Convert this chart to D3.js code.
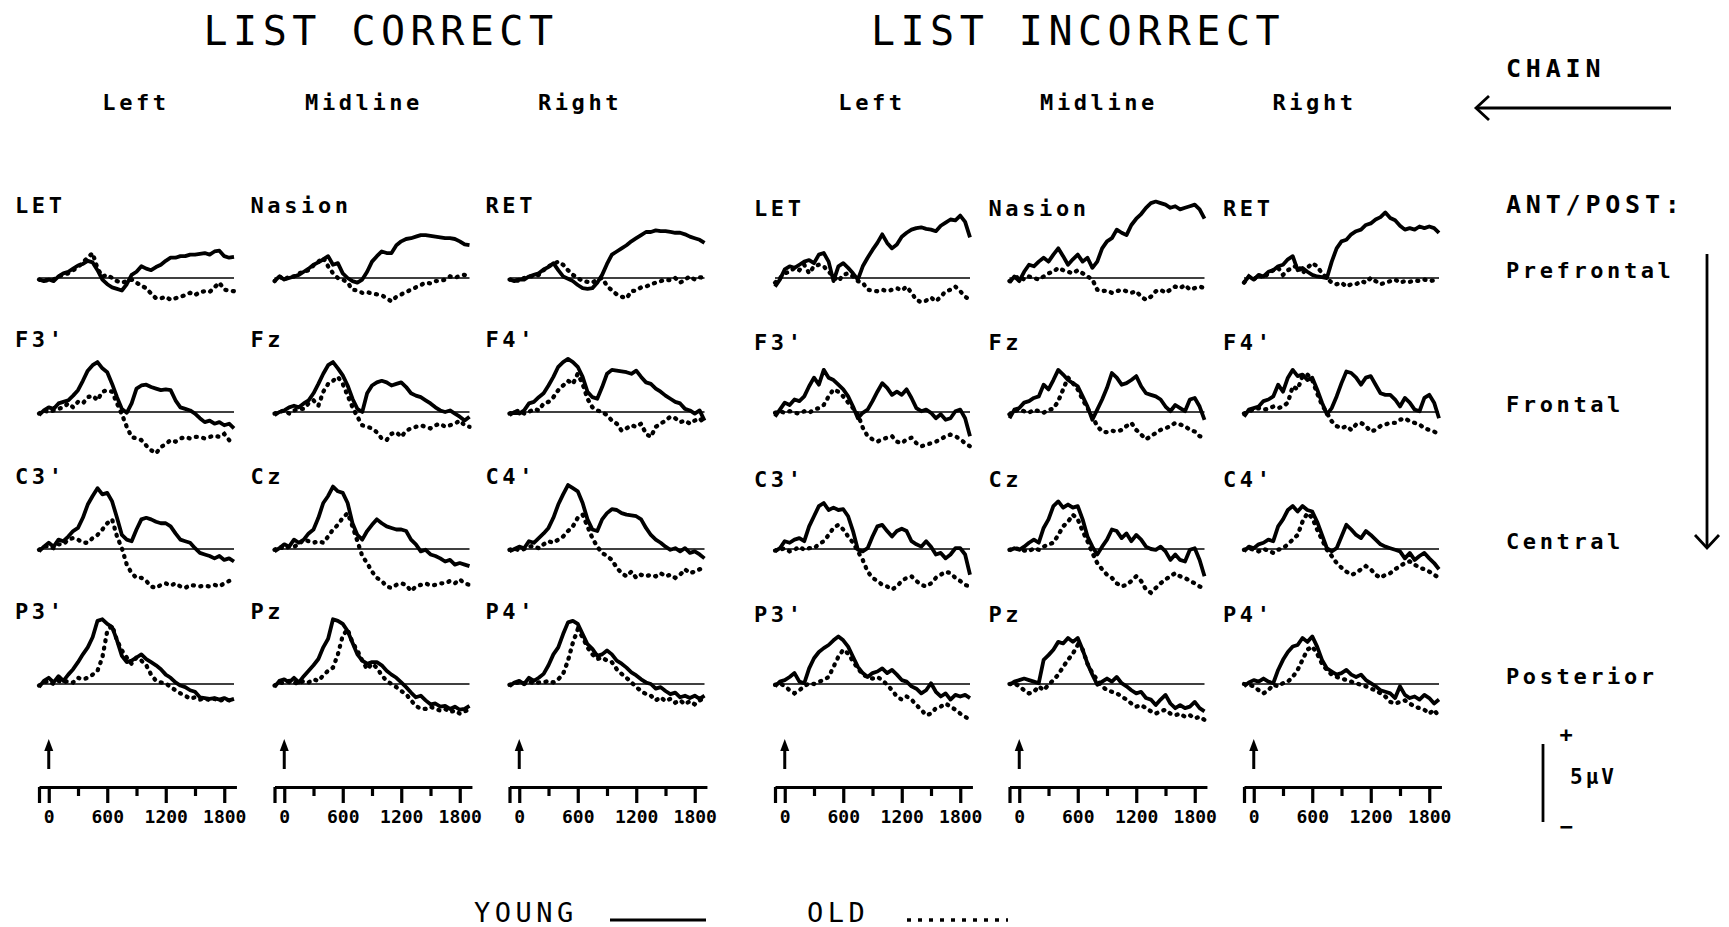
<!DOCTYPE html>
<html>
<head>
<meta charset="utf-8">
<script src="https://cdn.jsdelivr.net/npm/d3@7"></script>
<style>
  body { margin: 0; background: #fff; }
  text { font-family: "DejaVu Sans Mono", monospace; fill: #000; }
  .title { font-size: 40px; letter-spacing: 5.5px; }
  .hdr { font-size: 22px; font-weight: bold; letter-spacing: 3.6px; }
  .lbl { font-size: 22px; font-weight: bold; letter-spacing: 3.6px; }
  .side { font-size: 25px; font-weight: bold; letter-spacing: 4.8px; }
  .leg { font-size: 27px; letter-spacing: 4.5px; }
</style>
</head>
<body>
<svg id="chart" width="1729" height="927"></svg>
<script>
// sampling grid of the waveforms (ms), one value every 50 ms
const sampleTimes = d3.range(-100, 1901, 50);

// names
const conditions = ["LIST CORRECT", "LIST INCORRECT"];
const chains = ["Left", "Midline", "Right"];
const antPost = ["Prefrontal", "Frontal", "Central", "Posterior"];
const sites = [["LET", "Nasion", "RET"], ["F3'", "Fz", "F4'"], ["C3'", "Cz", "C4'"], ["P3'", "Pz", "P4'"]];
const tickTimes = [-100, 0, 300, 600, 900, 1200, 1500, 1800];
const tickLabels = ["0", "600", "1200", "1800"];

// ---- LIST CORRECT, young (solid) / old (dotted), µV ----
const cyLET = [-0.1,-0.2,-0.1,-0.2,0.1,0.3,0.4,0.6,0.8,0.9,1.1,1.0,0.5,-0.1,-0.4,-0.6,-0.7,-0.8,-0.4,0.2,0.4,0.75,0.6,0.5,0.7,0.85,1.1,1.3,1.3,1.4,1.4,1.5,1.5,1.55,1.6,1.5,1.7,1.75,1.4,1.3,1.35];
const coLET = [-0.1,-0.2,-0.1,-0.1,0.1,0.2,0.3,0.5,0.7,1.0,1.3,1.6,0.6,0.1,0.2,0.0,-0.2,-0.3,-0.2,-0.1,-0.3,-0.5,-0.65,-1.0,-1.3,-1.3,-1.2,-1.4,-1.3,-1.2,-1.1,-0.95,-1.1,-0.9,-0.85,-0.9,-0.6,-0.3,-0.75,-0.8,-0.85];
const cyNasion = [-0.2,0.1,-0.1,0.0,0.1,0.2,0.4,0.6,0.85,1.0,1.2,1.4,0.85,0.95,0.3,0.0,-0.2,-0.3,-0.1,0.4,1.05,1.4,1.7,1.6,1.6,2.1,2.35,2.5,2.55,2.65,2.75,2.75,2.7,2.65,2.6,2.55,2.55,2.5,2.35,2.15,2.1];
const coNasion = [-0.2,0.1,-0.1,0.1,0.1,0.3,0.4,0.5,0.8,1.05,1.3,0.75,0.3,0.0,-0.1,-0.3,-0.75,-0.8,-0.95,-0.9,-1.0,-1.05,-1.1,-1.3,-1.5,-1.2,-1.05,-0.9,-0.75,-0.6,-0.45,-0.3,-0.35,-0.2,-0.2,-0.1,0.1,0.0,0.15,0.2,0.1];
const cyRET = [-0.1,-0.2,-0.1,-0.1,0.1,0.2,0.3,0.55,0.7,0.95,0.5,0.1,-0.05,-0.2,-0.45,-0.65,-0.7,-0.65,-0.3,0.2,0.9,1.5,1.7,1.9,2.1,2.35,2.55,2.75,2.95,2.95,3.05,3.0,3.0,2.95,2.9,2.9,2.8,2.65,2.55,2.45,2.25];
const coRET = [-0.1,-0.1,-0.2,0.0,0.1,0.1,0.2,0.5,0.75,0.9,1.05,0.85,0.5,0.2,0.0,-0.2,-0.25,-0.3,-0.1,0.0,-0.5,-0.8,-1.05,-1.2,-1.3,-0.85,-0.8,-0.6,-0.55,-0.4,-0.3,-0.2,-0.1,-0.15,0.0,-0.3,-0.1,0.1,-0.1,0.05,0.0];
const cyF3 = [-0.2,0.1,0.3,0.2,0.55,0.65,0.75,1.05,1.4,2.0,2.65,3.0,3.2,2.8,2.55,1.8,0.95,0.2,-0.05,0.55,1.5,1.7,1.75,1.6,1.5,1.4,1.45,1.4,0.75,0.3,0.2,0.1,-0.1,-0.4,-0.65,-0.55,-0.75,-0.65,-0.85,-0.75,-1.05];
const coF3 = [-0.1,0.1,0.0,0.1,0.2,0.3,0.55,0.3,0.65,0.55,0.95,1.05,0.75,1.3,1.4,1.3,0.55,-0.15,-0.95,-1.6,-1.7,-1.8,-2.15,-2.45,-2.65,-2.25,-2.05,-1.8,-1.9,-1.7,-1.6,-1.7,-1.6,-1.6,-1.7,-1.6,-1.5,-1.6,-1.4,-1.8,-2.05];
const cyFz = [-0.2,0.0,0.1,0.3,0.4,0.3,0.55,0.75,1.2,1.8,2.45,3.0,3.2,2.8,2.35,1.7,0.85,0.2,0.0,1.2,1.7,1.9,2.0,1.9,1.7,1.8,1.9,1.6,1.2,1.05,0.95,0.75,0.55,0.3,0.1,0.0,0.1,-0.1,-0.3,-0.55,-0.3];
const coFz = [-0.1,0.0,0.1,-0.1,0.1,0.2,0.2,0.55,0.75,0.4,1.3,1.8,2.0,2.25,1.8,1.05,0.3,-0.3,-0.85,-0.95,-1.05,-1.3,-1.7,-1.8,-1.4,-1.3,-1.6,-1.2,-1.05,-0.95,-0.85,-0.95,-1.05,-0.85,-0.75,-0.95,-0.85,-0.75,-0.55,-0.85,-0.95];
const cyF4 = [-0.2,0.0,-0.1,0.1,0.55,0.65,0.95,1.2,1.7,2.25,2.9,3.2,3.4,3.2,2.9,2.25,1.3,0.95,0.85,1.6,2.45,2.7,2.65,2.6,2.55,2.45,2.65,2.25,1.9,1.8,1.5,1.3,1.05,0.85,0.65,0.55,0.2,0.1,-0.1,0.1,-0.55];
const coF4 = [-0.1,0.0,0.1,-0.1,0.0,0.2,0.1,0.55,0.65,0.95,1.4,1.7,2.0,1.8,2.45,1.8,0.85,0.3,0.1,0.0,-0.2,-0.55,-0.75,-1.2,-1.05,-0.85,-0.95,-0.75,-1.4,-1.6,-0.95,-0.75,-0.55,-0.3,-0.4,-0.65,-0.55,-0.75,-0.55,-0.4,-0.75];
const cyC3 = [-0.15,0.15,0.4,0.15,0.6,0.5,0.8,1.15,1.35,2.0,2.85,3.4,3.9,3.5,3.6,3.05,2.0,0.9,0.6,0.5,1.25,1.9,2.0,1.9,1.75,1.65,1.65,1.45,1.0,0.6,0.5,0.4,0.05,-0.25,-0.35,-0.45,-0.6,-0.45,-0.7,-0.6,-0.8];
const coC3 = [-0.05,0.15,0.2,0.05,0.3,0.3,0.6,0.7,0.6,0.4,0.4,0.7,0.9,1.25,1.65,1.9,0.8,0.05,-1.0,-1.55,-1.85,-1.85,-2.05,-2.4,-2.5,-2.3,-2.2,-2.35,-2.2,-2.4,-2.5,-2.3,-2.35,-2.4,-2.35,-2.4,-2.3,-2.4,-2.2,-2.05,-1.85];
const cyCz = [-0.15,0.05,0.3,0.15,0.6,0.4,0.6,1.0,1.25,2.0,2.95,3.4,4.0,3.7,3.6,2.95,1.65,0.9,0.6,1.15,1.55,1.9,1.65,1.45,1.35,1.25,1.25,1.15,0.6,0.3,-0.15,-0.05,-0.35,-0.45,-0.6,-0.8,-0.7,-1.0,-0.9,-1.0,-1.1];
const coCz = [-0.05,0.15,0.0,0.15,0.15,0.3,0.6,0.5,0.4,0.5,0.4,0.8,1.25,1.55,2.0,2.3,1.45,0.5,-0.45,-0.9,-1.45,-1.85,-2.05,-2.4,-2.5,-2.3,-2.2,-2.3,-2.7,-2.4,-2.3,-2.2,-2.35,-2.3,-2.2,-2.2,-2.05,-2.2,-1.95,-2.2,-2.3];
const cyC4 = [-0.15,0.0,0.15,0.05,0.5,0.4,0.7,1.0,1.35,2.0,2.85,3.5,4.1,3.9,3.7,2.95,1.9,1.25,1.15,1.9,2.3,2.55,2.5,2.3,2.2,2.15,2.1,1.9,1.35,0.9,0.6,0.4,0.15,-0.05,0.05,-0.15,0.05,-0.25,-0.15,-0.35,-0.6];
const coC4 = [-0.05,0.05,-0.1,0.0,0.15,0.2,0.05,0.3,0.5,0.4,0.6,0.8,1.15,1.45,2.0,2.2,1.45,0.7,0.15,-0.25,-0.45,-0.7,-1.2,-1.55,-1.75,-1.45,-1.85,-1.65,-1.75,-1.65,-1.75,-1.55,-1.75,-1.65,-1.85,-1.65,-1.3,-1.55,-1.45,-1.3,-1.2];
const cyP3 = [-0.2,0.2,0.4,0.1,0.5,0.2,0.6,0.95,1.4,1.9,2.35,3.0,4.05,4.15,3.85,3.65,2.8,1.8,1.4,1.5,1.7,1.9,1.6,1.4,1.2,0.95,0.6,0.4,0.1,-0.1,-0.2,-0.4,-0.5,-0.85,-0.9,-0.95,-0.9,-1.0,-0.9,-1.05,-0.95];
const coP3 = [-0.1,0.1,0.2,0.0,0.2,0.1,0.2,0.1,0.4,0.3,0.4,0.6,0.85,1.7,3.4,3.75,2.8,2.15,1.7,1.3,1.7,1.5,1.2,0.6,0.2,0.1,0.05,-0.2,-0.4,-0.6,-0.75,-0.95,-0.85,-1.0,-0.9,-1.05,-0.95,-1.1,-0.95,-1.05,-1.0];
const cyPz = [-0.2,0.2,0.3,0.1,0.4,0.1,0.5,0.85,1.2,1.6,2.35,2.9,4.15,4.05,3.85,3.4,2.65,1.9,1.5,1.3,1.4,1.4,1.2,0.85,0.6,0.4,0.1,-0.2,-0.55,-0.85,-0.75,-1.05,-1.3,-1.25,-1.45,-1.4,-1.6,-1.45,-1.65,-1.6,-1.4];
const coPz = [-0.1,0.1,0.05,0.2,0.1,0.0,0.2,0.1,0.3,0.2,0.55,0.85,1.05,1.9,3.1,3.5,2.65,2.15,1.5,0.95,1.3,1.05,0.55,0.2,0.0,-0.2,-0.45,-0.65,-1.05,-1.4,-1.6,-1.6,-1.45,-1.6,-1.7,-1.6,-1.8,-1.7,-1.9,-1.75,-1.65];
const cyP4 = [-0.15,0.1,0.2,0.0,0.4,0.2,0.4,0.65,1.2,1.9,2.35,3.2,3.95,4.05,3.85,3.2,2.55,2.25,1.8,1.9,2.15,1.9,1.5,1.3,1.05,0.75,0.55,0.3,0.1,0.0,-0.3,-0.2,-0.45,-0.65,-0.55,-0.85,-0.75,-0.9,-0.75,-0.95,-0.75];
const coP4 = [-0.05,0.05,0.1,0.0,0.15,0.05,0.1,0.1,0.2,0.1,0.3,0.65,1.5,2.65,3.5,3.0,2.35,1.9,1.6,1.7,1.5,1.4,0.95,0.65,0.4,0.1,-0.2,-0.45,-0.65,-0.75,-1.05,-0.85,-1.1,-0.95,-1.2,-1.05,-1.3,-1.1,-1.3,-1.05,-0.9];

// ---- LIST INCORRECT ----
const iyLET = [-0.55,-0.1,0.55,0.75,0.65,0.85,1.05,1.15,0.95,1.5,1.6,1.05,-0.2,0.75,0.95,0.65,0.3,-0.1,0.75,1.3,1.8,2.25,2.8,2.25,1.9,2.15,2.65,2.9,3.1,3.2,3.25,3.15,3.1,3.0,3.35,3.55,3.75,3.7,4.0,3.6,2.6];
const ioLET = [-0.3,0.0,0.3,0.4,0.65,0.5,0.85,0.3,0.75,0.85,0.75,0.4,0.1,-0.2,0.2,0.3,0.1,-0.2,-0.3,-0.75,-0.8,-0.85,-0.75,-0.85,-0.75,-0.65,-0.8,-0.55,-0.95,-1.4,-1.55,-1.45,-1.25,-1.5,-1.2,-0.85,-0.75,-0.55,-0.85,-1.2,-1.4];
const iyNasion = [-0.3,0.1,-0.2,0.4,0.85,0.75,1.05,1.3,1.05,1.5,1.9,1.4,0.85,1.2,1.5,1.05,1.3,0.65,1.05,1.9,2.35,2.55,3.1,2.9,2.75,3.4,3.8,4.1,4.5,4.8,4.9,4.8,4.7,4.5,4.6,4.4,4.5,4.6,4.7,4.4,3.8];
const ioNasion = [-0.2,0.0,0.1,-0.1,0.1,0.0,-0.1,0.1,0.3,0.4,0.65,0.5,0.4,0.3,0.5,0.3,0.1,-0.1,-0.75,-0.85,-0.8,-0.95,-0.85,-0.75,-0.85,-0.95,-0.85,-1.2,-1.4,-1.2,-0.85,-0.75,-0.95,-0.75,-0.55,-0.65,-0.45,-0.75,-0.65,-0.55,-0.65];
const iyRET = [-0.3,0.1,-0.1,0.2,0.1,0.4,0.5,0.75,0.85,1.2,1.4,0.5,0.65,0.4,0.2,0.1,0.05,0.0,1.05,1.9,2.35,2.45,2.8,3.0,3.1,3.4,3.5,3.75,3.9,4.2,3.85,3.7,3.35,3.1,3.2,3.1,3.3,3.2,3.3,3.2,2.9];
const ioRET = [-0.3,0.1,-0.1,0.2,0.0,0.3,0.5,0.65,0.2,0.5,0.65,0.85,0.3,0.65,0.95,0.75,0.3,0.0,-0.3,-0.4,-0.3,-0.55,-0.4,-0.4,-0.2,-0.3,0.0,-0.2,-0.4,-0.3,-0.2,-0.1,-0.3,-0.2,-0.25,-0.15,-0.2,-0.1,-0.2,-0.15,-0.1];
const iyF3 = [-0.3,0.15,0.6,0.45,0.8,0.7,1.0,1.65,2.2,1.75,2.7,2.2,2.05,1.75,1.45,1.0,0.35,-0.4,-0.05,0.15,0.7,1.3,1.85,1.55,1.1,1.3,1.1,1.45,0.9,0.25,0.05,0.15,-0.05,-0.4,-0.15,-0.5,-0.4,0.05,0.15,-0.4,-1.55];
const ioF3 = [-0.05,0.05,-0.05,0.05,-0.05,-0.1,0.05,-0.05,0.15,0.25,0.45,1.0,1.45,1.3,1.0,0.6,0.25,-0.15,-1.0,-1.55,-1.75,-1.9,-1.75,-1.65,-1.55,-1.9,-2.0,-1.75,-1.65,-2.0,-2.2,-2.1,-2.0,-1.9,-1.75,-1.55,-1.45,-1.55,-1.75,-2.0,-2.2];
const iyFz = [-0.4,0.15,0.25,0.6,0.7,0.9,1.0,1.75,1.45,2.05,2.7,2.4,2.05,1.85,1.65,1.0,0.35,-0.5,0.15,0.8,1.55,2.5,2.2,1.75,1.85,2.05,2.3,1.65,1.2,1.1,1.0,0.8,0.35,0.05,0.45,0.25,0.05,0.8,0.9,0.35,-0.5];
const ioFz = [-0.15,0.05,0.15,0.05,-0.05,0.15,0.05,-0.05,0.15,0.2,0.7,1.45,2.2,1.85,1.45,0.8,0.25,-0.3,-0.9,-1.25,-1.3,-1.2,-1.25,-1.15,-0.9,-0.7,-1.15,-1.45,-1.75,-1.55,-1.35,-1.15,-1.05,-0.9,-0.7,-0.8,-0.9,-1.15,-1.25,-1.55,-1.65];
const iyF4 = [-0.3,0.15,0.25,0.35,0.7,0.8,1.0,1.75,1.3,2.2,2.7,2.3,2.4,2.05,2.2,1.45,0.6,-0.15,0.25,1.0,1.85,2.6,2.5,2.2,1.75,2.2,2.3,1.75,1.2,1.1,1.1,0.8,0.35,0.9,0.6,0.15,0.05,0.9,1.1,0.6,-0.4];
const ioF4 = [-0.1,0.05,0.15,0.25,0.15,0.2,0.35,0.25,0.35,0.6,1.65,1.45,2.3,2.4,2.05,1.2,0.45,-0.05,-0.6,-0.9,-1.05,-0.9,-1.15,-0.8,-0.7,-0.9,-1.25,-1.15,-0.9,-0.8,-0.7,-0.7,-0.5,-0.4,-0.6,-0.7,-0.8,-1.05,-1.15,-1.25,-1.45];
const iyC3 = [-0.15,0.05,0.5,0.4,0.6,0.7,0.5,1.45,2.1,2.75,2.95,2.5,2.65,2.5,2.55,2.1,1.15,-0.05,-0.15,0.05,0.8,1.45,1.55,1.15,0.8,1.15,1.3,1.15,0.5,0.3,0.15,0.5,0.15,-0.35,-0.25,-0.6,-0.35,0.05,0.05,-0.35,-1.65];
const ioC3 = [-0.1,-0.05,0.05,-0.15,-0.05,0.15,-0.05,0.05,0.05,0.3,0.5,0.9,1.35,1.55,1.25,0.8,0.4,-0.15,-0.7,-1.45,-1.85,-2.05,-2.3,-2.4,-2.6,-2.4,-2.05,-1.85,-1.75,-2.05,-2.3,-2.4,-2.2,-1.85,-1.65,-1.45,-1.55,-1.85,-2.05,-2.3,-2.4];
const iyCz = [-0.1,0.05,-0.05,0.15,0.4,0.6,0.4,1.35,1.9,2.75,3.05,2.65,2.85,2.65,2.75,1.9,0.8,0.15,-0.35,0.15,0.6,1.25,1.15,0.7,1.0,0.5,0.9,0.6,0.15,0.0,-0.05,0.15,-0.15,-0.7,-0.35,-0.7,-0.8,-0.05,0.05,-0.7,-1.75];
const ioCz = [-0.05,0.05,0.0,-0.1,-0.15,0.05,-0.05,0.15,0.3,0.4,0.9,1.45,1.75,2.2,1.9,1.15,0.5,-0.25,-0.9,-1.3,-1.65,-1.85,-2.2,-2.4,-2.3,-2.05,-1.75,-2.05,-2.6,-2.8,-2.5,-2.2,-1.95,-1.75,-1.55,-1.75,-1.85,-2.05,-2.2,-2.4,-2.5];
const iyC4 = [-0.15,0.15,0.05,0.3,0.4,0.6,0.5,1.45,1.9,2.5,2.75,2.4,2.75,2.5,2.4,1.75,0.9,0.05,-0.15,0.05,0.8,1.55,1.25,0.9,0.7,1.15,0.9,0.6,0.3,0.15,0.05,-0.05,-0.15,-0.6,-0.25,-0.7,-0.45,-0.25,-0.6,-0.9,-1.3];
const ioC4 = [-0.05,0.05,-0.05,-0.15,0.0,-0.1,-0.25,-0.05,0.05,0.3,0.6,0.9,1.75,2.3,2.0,1.25,0.6,-0.05,-0.45,-0.9,-1.2,-1.45,-1.65,-1.55,-1.3,-1.1,-1.3,-1.65,-1.85,-1.65,-1.55,-1.3,-1.1,-0.9,-0.8,-1.0,-1.2,-1.3,-1.45,-1.65,-1.85];
const iyP3 = [-0.15,0.15,0.25,0.45,0.7,0.15,0.05,1.0,1.65,2.05,2.3,2.5,2.8,3.05,2.8,2.4,1.75,1.1,0.7,0.45,0.7,0.8,1.0,0.7,0.9,0.6,0.25,0.15,-0.15,-0.3,-0.6,-0.4,0.05,-0.5,-0.8,-0.6,-1.0,-0.7,-0.8,-0.7,-0.9];
const ioP3 = [-0.05,0.05,-0.15,-0.4,-0.6,-0.4,-0.15,0.05,0.0,0.15,0.25,0.45,1.1,1.75,2.2,1.95,1.45,1.0,0.6,0.45,0.35,0.45,0.25,-0.05,-0.4,-0.8,-1.0,-0.8,-1.0,-1.35,-1.65,-2.0,-1.9,-1.55,-1.45,-1.25,-1.45,-1.65,-1.9,-2.1,-2.3];
const iyPz = [-0.05,0.15,0.25,0.35,0.25,0.15,0.05,1.55,1.85,2.2,2.7,2.6,2.95,2.7,2.95,2.2,1.3,0.6,-0.05,0.15,0.35,0.15,0.45,0.05,-0.15,-0.4,-0.6,-0.5,-0.9,-1.0,-1.35,-1.0,-0.7,-1.25,-1.55,-1.35,-1.55,-1.45,-1.15,-1.55,-1.75];
const ioPz = [0.0,0.05,-0.15,-0.4,-0.6,-0.5,-0.15,-0.4,-0.05,0.25,0.6,1.1,1.55,1.95,2.5,2.2,1.3,0.7,0.25,-0.15,-0.4,-0.5,-0.6,-0.8,-1.0,-1.25,-1.45,-1.35,-1.55,-1.75,-1.9,-1.75,-1.65,-1.9,-2.0,-1.9,-2.1,-2.0,-2.2,-2.1,-2.3];
const iyP4 = [-0.15,0.1,0.25,0.15,0.35,0.15,0.05,0.9,1.55,2.05,2.4,2.5,2.95,2.7,3.05,2.4,1.55,1.0,0.8,0.6,0.7,0.9,0.6,0.45,0.6,0.25,0.05,-0.15,-0.4,-0.5,-0.6,-0.9,-0.15,-0.7,-0.9,-0.8,-1.0,-0.7,-0.9,-1.25,-1.0];
const ioP4 = [0.0,-0.05,-0.15,-0.4,-0.6,-0.4,-0.05,-0.15,0.05,0.15,0.45,0.9,1.55,2.2,2.4,1.95,1.3,0.9,0.6,0.45,0.35,0.25,0.15,0.05,-0.05,-0.15,-0.3,-0.4,-0.6,-0.8,-1.15,-1.25,-1.15,-1.05,-1.25,-1.45,-1.55,-1.65,-1.9,-1.65,-2.1];

// [condition][row][chain]
const young = [
  [[cyLET, cyNasion, cyRET], [cyF3, cyFz, cyF4], [cyC3, cyCz, cyC4], [cyP3, cyPz, cyP4]],
  [[iyLET, iyNasion, iyRET], [iyF3, iyFz, iyF4], [iyC3, iyCz, iyC4], [iyP3, iyPz, iyP4]]
];
const old = [
  [[coLET, coNasion, coRET], [coF3, coFz, coF4], [coC3, coCz, coC4], [coP3, coPz, coP4]],
  [[ioLET, ioNasion, ioRET], [ioF3, ioFz, ioF4], [ioC3, ioCz, ioC4], [ioP3, ioPz, ioP4]]
];

const svg = d3.select("#chart");

// layout
const colX = [39, 274.5, 509.5, 775, 1009.5, 1244];
const rowY = [278, 412, 549, 684];
const axisY = 787;
const titleX = [381, 1078];
const headerOffset = [97, 89.5, 70.5];

const x = d3.scaleLinear().domain([-100, 1900]).range([0, 195]);
const y = d3.scaleLinear().domain([-5, 5]).range([78, -78]);   // 5 µV = 78 px, positive up
const xAxisScale = d3.scaleLinear().domain([-100, 1925]).range([x(-100), x(1925)]);

const wave = d3.line()
  .x((d, i) => x(sampleTimes[i]))
  .y(d => y(d));

conditions.forEach((cond, ci) => {
  svg.append("text")
    .attr("class", "title")
    .attr("x", titleX[ci]).attr("y", 45)
    .attr("text-anchor", "middle")
    .text(cond);

  chains.forEach((chain, k) => {
    const x0 = colX[ci * 3 + k];

    svg.append("text")
      .attr("class", "hdr")
      .attr("x", x0 + headerOffset[k]).attr("y", 110)
      .attr("text-anchor", "middle")
      .text(chain);

    sites.forEach((row, r) => {
      const g = svg.append("g").attr("transform", `translate(${x0},${rowY[r]})`);

      g.append("text")
        .attr("class", "lbl")
        .attr("x", ci === 0 ? -24 : -21)
        .attr("y", ci === 0 ? -65 : -62)
        .text(row[k]);

      // zero line
      g.append("line")
        .attr("x1", x(-100)).attr("x2", x(1900))
        .attr("y1", y(0)).attr("y2", y(0))
        .attr("stroke", "#000").attr("stroke-width", 1.6);

      // old (dotted)
      g.append("path")
        .datum(old[ci][r][k])
        .attr("fill", "none").attr("stroke", "#000")
        .attr("stroke-width", 4.3)
        .attr("stroke-linecap", "round")
        .attr("stroke-dasharray", "1,6.5")
        .attr("d", wave);

      // young (solid)
      g.append("path")
        .datum(young[ci][r][k])
        .attr("fill", "none").attr("stroke", "#000")
        .attr("stroke-width", 3.8)
        .attr("stroke-linejoin", "round")
        .attr("d", wave);
    });

    // stimulus onset arrow
    const ga = svg.append("g").attr("transform", `translate(${x0 + x(0)},0)`);
    ga.append("line")
      .attr("x1", 0).attr("x2", 0).attr("y1", 769).attr("y2", 748)
      .attr("stroke", "#000").attr("stroke-width", 3);
    ga.append("path")
      .attr("d", "M-4.5,751L0,739L4.5,751Z")
      .attr("fill", "#000");

    // time axis
    const ax = svg.append("g")
      .attr("transform", `translate(${x0},${axisY})`)
      .call(d3.axisBottom(xAxisScale)
        .tickValues(tickTimes)
        .tickSize(16)
        .tickSizeOuter(0)
        .tickFormat(d => tickLabels.includes(String(d)) ? String(d) : ""));

    ax.select(".domain").attr("stroke-width", 3.2);
    ax.selectAll(".tick line")
      .attr("stroke-width", 3.2)
      .attr("y2", d => (d % 600 === 0 || d === -100) ? 16 : 9);
    ax.selectAll(".tick text")
      .attr("y", 36).attr("dy", 0)
      .attr("font-family", "DejaVu Sans Mono, monospace")
      .attr("font-size", 18)
      .attr("font-weight", "bold");
  });
});

// chain direction (right column)
svg.append("text").attr("class", "side").attr("x", 1506).attr("y", 77).text("CHAIN");
svg.append("line")
  .attr("x1", 1476).attr("x2", 1671).attr("y1", 108).attr("y2", 108)
  .attr("stroke", "#000").attr("stroke-width", 2.8);
svg.append("path")
  .attr("d", "M1489,96L1476,108L1489,120")
  .attr("fill", "none").attr("stroke", "#000").attr("stroke-width", 2.8);

svg.append("text").attr("class", "side").attr("x", 1506).attr("y", 213).text("ANT/POST:");

antPost.forEach((name, r) => {
  svg.append("text")
    .attr("class", "lbl")
    .attr("x", 1506).attr("y", rowY[r])
    .text(name);
});

svg.append("line")
  .attr("x1", 1707).attr("x2", 1707).attr("y1", 254).attr("y2", 548)
  .attr("stroke", "#000").attr("stroke-width", 2.8);
svg.append("path")
  .attr("d", "M1695,535L1707,548L1719,535")
  .attr("fill", "none").attr("stroke", "#000").attr("stroke-width", 2.8);

// amplitude calibration bar
const gs = svg.append("g").attr("transform", "translate(1543,822)");
gs.append("line")
  .attr("x1", 0).attr("x2", 0).attr("y1", y(0)).attr("y2", y(5))
  .attr("stroke", "#000").attr("stroke-width", 2.8);
gs.append("text").attr("x", 23).attr("y", y(5) - 2)
  .attr("text-anchor", "middle").attr("font-size", 22).attr("font-weight", "bold").text("+");
gs.append("text").attr("x", 27).attr("y", y(2.5) + 1)
  .attr("font-size", 21).attr("font-weight", "bold").attr("letter-spacing", 3).text("5µV");
gs.append("text").attr("x", 23).attr("y", 12)
  .attr("text-anchor", "middle").attr("font-size", 22).attr("font-weight", "bold").text("−");

// legend
svg.append("text").attr("class", "leg").attr("x", 474).attr("y", 922).text("YOUNG");
svg.append("line")
  .attr("x1", 610).attr("x2", 706).attr("y1", 920).attr("y2", 920)
  .attr("stroke", "#000").attr("stroke-width", 3);
svg.append("text").attr("class", "leg").attr("x", 807).attr("y", 922).text("OLD");
svg.append("line")
  .attr("x1", 907).attr("x2", 1008).attr("y1", 920).attr("y2", 920)
  .attr("stroke", "#000").attr("stroke-width", 3.5)
  .attr("stroke-dasharray", "4,7");
</script>
</body>
</html>
